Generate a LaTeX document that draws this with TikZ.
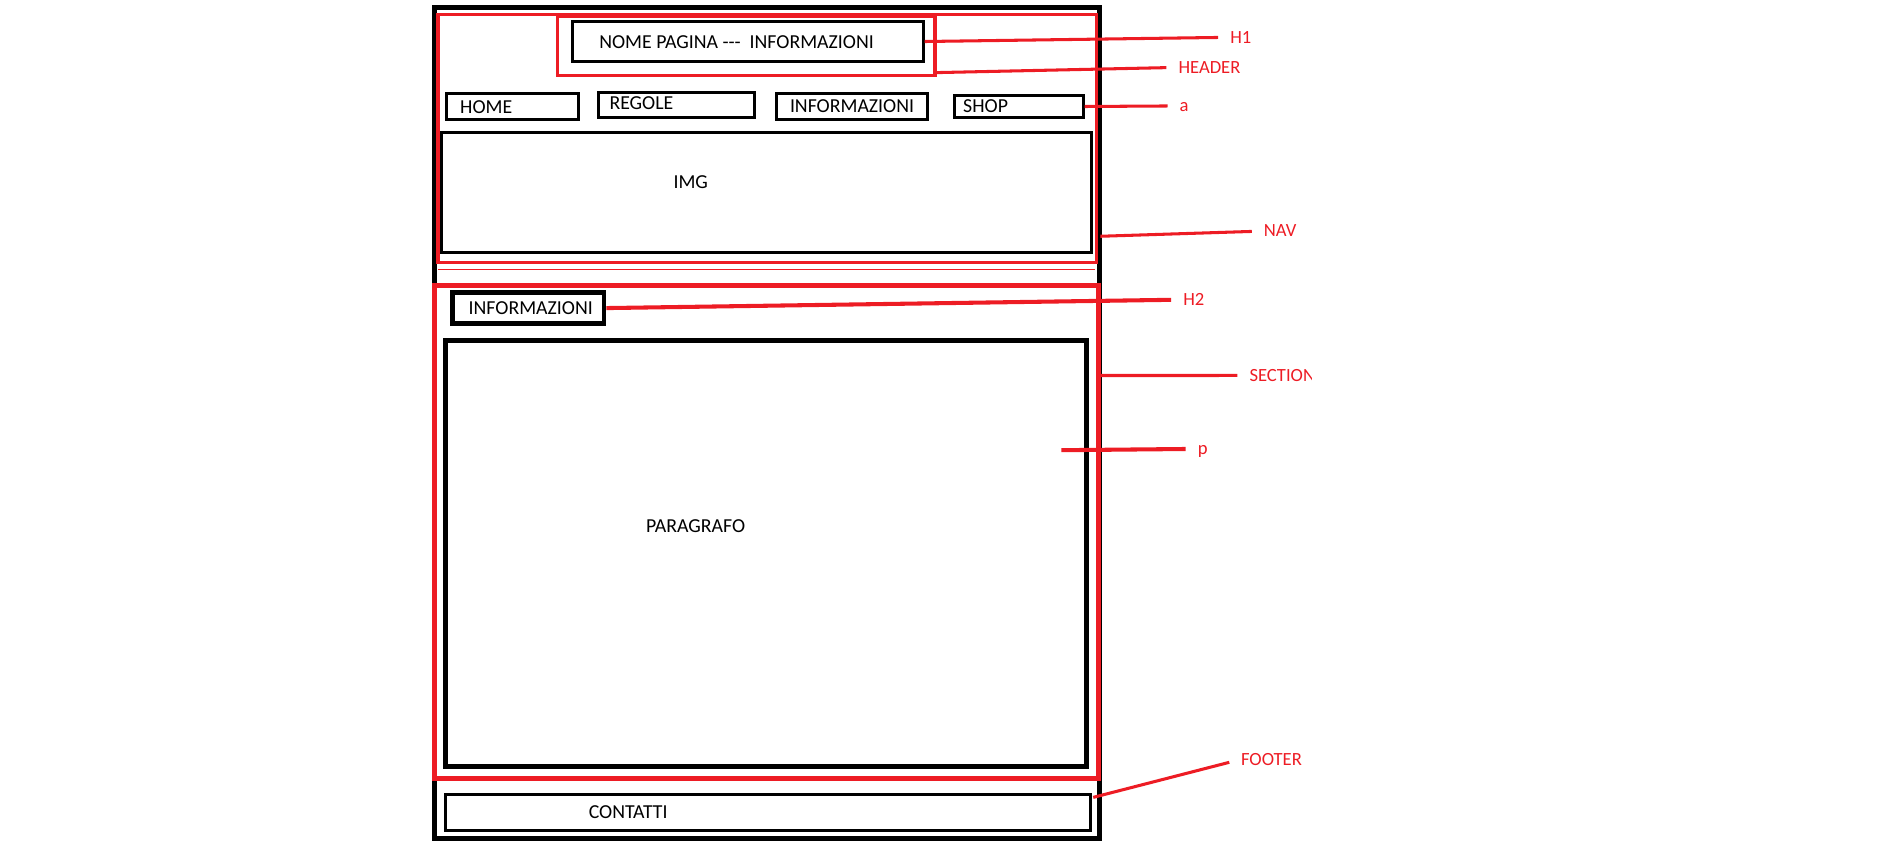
\documentclass[tikz,border=0pt]{standalone}
\usepackage{fontspec}
\setmainfont{Carlito}
\usetikzlibrary{fit,calc}
\definecolor{pred}{HTML}{ED1C24}

\begin{document}
\begin{tikzpicture}[
    x=0.025cm, y=-0.025cm,
    box/.style={draw, line width=1.8pt, inner sep=0pt},
    boxbold/.style={draw, line width=2.7pt, inner sep=0pt},
    area/.style={draw=pred, line width=1.9pt, inner sep=0pt},
    areabold/.style={draw=pred, line width=2.8pt, inner sep=0pt},
    txt/.style={inner sep=0pt, font=\fontsize{11.7}{14}\selectfont},
    tag/.style={anchor=west, inner sep=0pt, text=pred, text height=7pt, text depth=0pt, font=\fontsize{11}{13}\selectfont},
    lead/.style={draw=pred, line width=1.8pt, shorten >=7pt},
]
\useasboundingbox (0,0) rectangle (1568,720);

% Pagina
\node[box, line width=3pt, fit={(361,6) (914,697)}] (page) {};

% Nav e header
\node[area, fit={(364,12) (911,218)}] (nav) {};
\draw[pred, line width=0.7pt] (364,224) -- (910,224);
\node[area, fit={(463,14) (777,63)}] (hdr) {};
\node[box, fit={(476,18) (767,51)}] (h1) {};
\node[txt] (th1) at (612,35) {NOME PAGINA -{}-{}-\ \ INFORMAZIONI};

% Link
\node[box, fit={(371,78) (481,99)}] (home) {};
\node[box, fit={(497,77) (627,98)}] (regole) {};
\node[box, fit={(645,78) (771,99)}] (info) {};
\node[box, fit={(793,79) (900,98)}] (shop) {};
\node[txt] (thome) at (404,89) {HOME};
\node[txt] (tregole) at (533,86) {REGOLE};
\node[txt] (tinfo) at (708,88) {INFORMAZIONI};
\node[txt] (tshop) at (819,88) {SHOP};

% Immagine
\node[box, line width=2pt, fit={(367,110) (907,210)}] (img) {};
\node[txt] (timg) at (574,151) {IMG};

% Section
\node[box, line width=2.7pt, fit={(376,243) (502,269)}] (h2) {};
\node[txt] (th2) at (441,256) {INFORMAZIONI};
\node[boxbold, fit={(370,283) (903,637)}] (para) {};
\node[txt] (tpara) at (578,437) {PARAGRAFO};
\node[areabold, fit={(361,237) (913,647)}] (sect) {};

% Footer
\node[box, line width=2pt, fit={(370,660) (906,690)}] (foot) {};
\node[txt] (tfoot) at (522,675) {CONTATTI};

% Etichette
\node[tag] (lh1) at (1022,31) {H1};
\node[tag] (lhdr) at (979,56) {HEADER};
\node[tag] (la) at (980,88) {a};
\node[tag] (lnav) at (1050,192) {NAV};
\node[tag] (lh2) at (983,249) {H2};
\begin{scope}
\clip (0,0) rectangle (1090,720);
\node[tag] (lsect) at (1038,312) {SECTION};
\end{scope}
\node[tag] (lp) at (995,373) {p};
\node[tag] (lfoot) at (1031,631) {FOOTER};

% Linee
\draw[lead] (h1.east) -- (lh1.west);
\draw[lead] ($(hdr.south east)+(0,-4)$) -- (lhdr.west);
\draw[lead] (shop.east) -- (la.west);
\draw[lead] ($(nav.south east)+(2,-23)$) -- (lnav.west);
\draw[lead, line width=2.4pt] (h2.east) -- (lh2.west);
\draw[lead] ($(sect.north east)+(0,77)$) -- (lsect.west);
\draw[lead, line width=2.4pt] ($(para.north east)+(-23,93)$) -- (lp.west);
\draw[lead] ($(foot.north east)+(1,4)$) -- (lfoot.west);

\end{tikzpicture}
\end{document}
